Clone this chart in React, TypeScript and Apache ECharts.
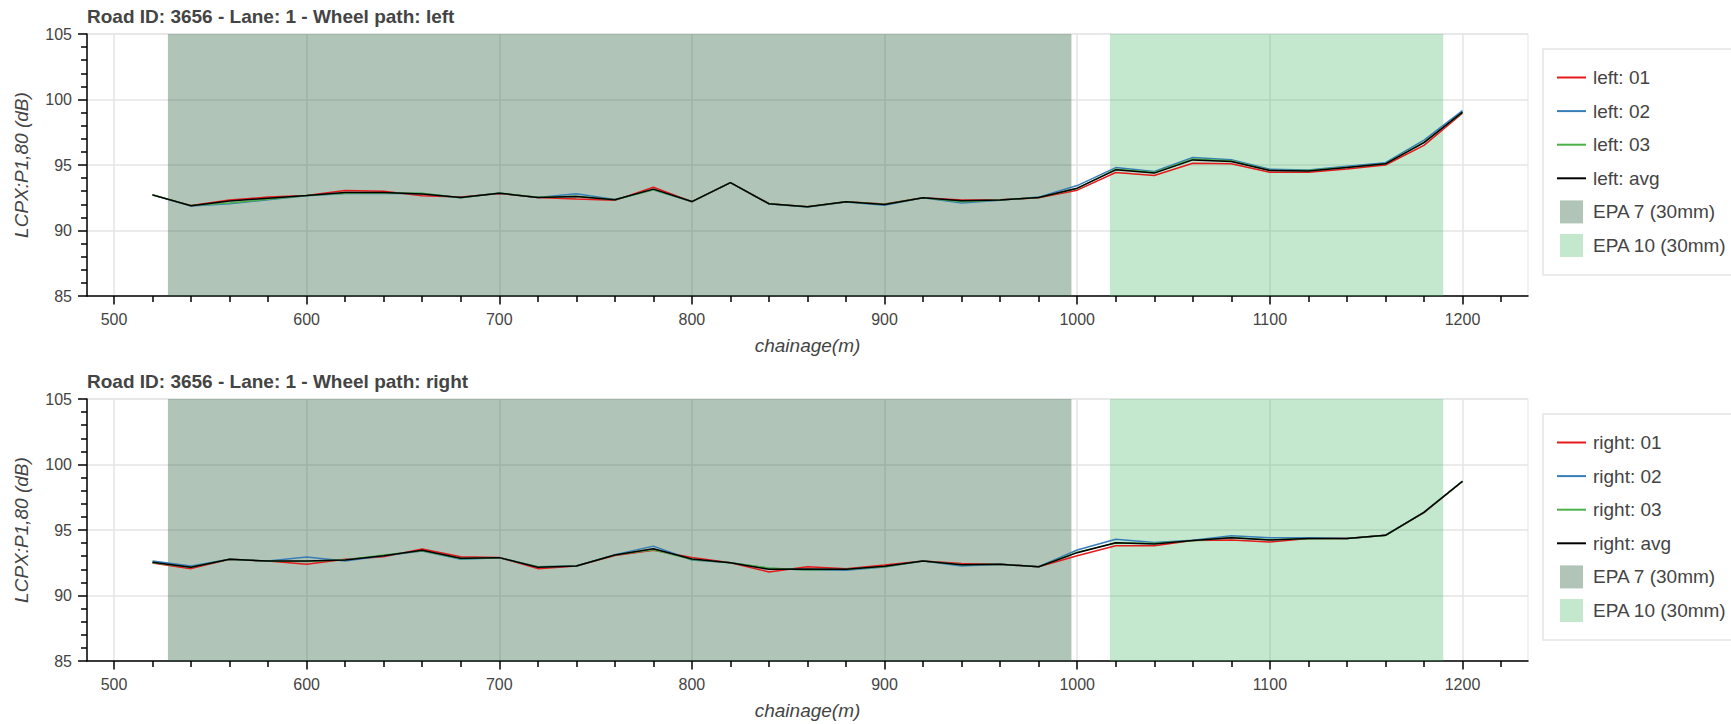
import React, { useEffect, useRef } from "react";
import * as echarts from "echarts";

// ---------------- data ----------------
const chainage = [
  520, 540, 560, 580, 600, 620, 640, 660, 680, 700, 720, 740, 760, 780, 800, 820, 840, 860,
  880, 900, 920, 940, 960, 980, 1000, 1020, 1040, 1060, 1080, 1100, 1120, 1140, 1160, 1180, 1200,
];

const left01 = [
  92.72, 91.9, 92.33, 92.55, 92.68, 93.05, 93.0, 92.65, 92.55, 92.83, 92.52, 92.4, 92.3, 93.3, 92.2, 93.66, 92.05, 91.82,
  92.2, 92.03, 92.5, 92.33, 92.35, 92.5, 93.08, 94.43, 94.2, 95.14, 95.1, 94.45, 94.45, 94.7, 95.0, 96.5, 98.95,
];
const left02 = [
  92.7, 91.87, 92.05, 92.35, 92.66, 92.82, 92.82, 92.82, 92.5, 92.86, 92.52, 92.8, 92.37, 93.1, 92.2, 93.66, 92.03, 91.8,
  92.18, 91.93, 92.5, 92.1, 92.3, 92.55, 93.43, 94.8, 94.5, 95.57, 95.4, 94.68, 94.62, 94.9, 95.18, 96.9, 99.15,
];
const left03 = [
  92.73, 91.9, 92.1, 92.38, 92.67, 92.85, 92.88, 92.85, 92.5, 92.86, 92.53, 92.62, 92.35, 93.1, 92.22, 93.66, 92.04, 91.81,
  92.19, 92.0, 92.5, 92.2, 92.33, 92.52, 93.2, 94.68, 94.44, 95.46, 95.32, 94.6, 94.58, 94.83, 95.1, 96.75, 99.0,
];
const leftAvg = [
  92.72, 91.89, 92.25, 92.47, 92.67, 92.9, 92.9, 92.78, 92.52, 92.85, 92.52, 92.6, 92.34, 93.16, 92.21, 93.66, 92.04, 91.81,
  92.19, 91.99, 92.5, 92.27, 92.33, 92.52, 93.23, 94.63, 94.38, 95.39, 95.27, 94.58, 94.55, 94.81, 95.09, 96.71, 99.03,
];

const right01 = [
  92.48, 92.05, 92.76, 92.63, 92.38, 92.76, 92.96, 93.55, 92.96, 92.9, 92.05, 92.25, 93.05, 93.45, 92.91, 92.5, 91.8, 92.2,
  92.05, 92.33, 92.63, 92.45, 92.38, 92.2, 93.04, 93.8, 93.8, 94.19, 94.24, 94.08, 94.36, 94.36, 94.59, 96.33, 98.7,
];
const right02 = [
  92.63, 92.25, 92.76, 92.63, 92.94, 92.63, 93.04, 93.4, 92.76, 92.88, 92.2, 92.25, 93.12, 93.77, 92.71, 92.5, 92.08, 91.95,
  91.92, 92.18, 92.63, 92.25, 92.38, 92.2, 93.47, 94.29, 94.04, 94.22, 94.56, 94.41, 94.4, 94.36, 94.6, 96.37, 98.73,
];
const right03 = [
  92.5, 92.15, 92.76, 92.63, 92.6, 92.72, 93.1, 93.42, 92.8, 92.89, 92.2, 92.25, 93.1, 93.5, 92.75, 92.5, 92.1, 91.95,
  92.0, 92.2, 92.63, 92.35, 92.38, 92.2, 93.3, 94.0, 93.98, 94.17, 94.43, 94.25, 94.33, 94.36, 94.58, 96.35, 98.72,
];
const rightAvg = [
  92.53, 92.15, 92.76, 92.63, 92.63, 92.71, 93.04, 93.45, 92.84, 92.89, 92.15, 92.25, 93.09, 93.57, 92.79, 92.5, 92.0, 92.03,
  92.0, 92.23, 92.63, 92.35, 92.38, 92.2, 93.27, 94.03, 93.94, 94.19, 94.41, 94.24, 94.36, 94.36, 94.59, 96.35, 98.72,
];

const epa7Range = [528, 997];
const epa10Range = [1017, 1190];
const xTicks = [500, 600, 700, 800, 900, 1000, 1100, 1200];
const xRange = [486, 1234];
const yRange = [85, 105];
const titles = [
  "Road ID: 3656 - Lane: 1 - Wheel path: left",
  "Road ID: 3656 - Lane: 1 - Wheel path: right",
];
const runLabels = ["01", "02", "03", "avg"];
const epaNames = ["EPA 7 (30mm)", "EPA 10 (30mm)"];

// ---------------- styles ----------------
const FONT = "'Liberation Sans', Arial, Helvetica, sans-serif";
const TXT = "#444444";
const LINE_COLORS = ["#e41a1c", "#377eb8", "#4daf4a", "#000000"];
const EPA_COLORS = ["rgba(30,90,50,0.35)", "rgba(60,180,90,0.3)"];
const LINE_ICON = "path://M0,10.5L29,10.5L29,12.5L0,12.5Z M0,0 M29,23";
const RECT_ICON = "path://M3,0L26,0L26,23L3,23Z M0,0 M29,23";

const PANEL_OFFSET = 365;

function pairs(vals: number[]) {
  return chainage.map((c, i) => [c, vals[i]]);
}

function buildOption() {
  const panels = [
    { side: "left", data: [left01, left02, left03, leftAvg] },
    { side: "right", data: [right01, right02, right03, rightAvg] },
  ];
  const title: any[] = [];
  const grid: any[] = [];
  const xAxis: any[] = [];
  const yAxis: any[] = [];
  const legend: any[] = [];
  const series: any[] = [];

  panels.forEach((p, i) => {
    const off = i * PANEL_OFFSET;
    title.push({
      text: titles[i],
      left: 87,
      top: 7 + off,
      padding: 0,
      textStyle: { fontSize: 19, fontWeight: "bold", color: TXT, fontFamily: FONT },
    });
    grid.push({
      left: 87,
      top: 34 + off,
      width: 1441,
      height: 262,
      show: true,
      borderColor: "#e5e5e5",
      borderWidth: 1,
      backgroundColor: "transparent",
    });
    xAxis.push({
      type: "value",
      gridIndex: i,
      min: xRange[0],
      max: xRange[1],
      minInterval: 100,
      maxInterval: 100,
      name: "chainage(m)",
      nameLocation: "middle",
      nameGap: 39.5,
      nameTextStyle: { fontSize: 19, fontStyle: "italic", color: TXT, fontFamily: FONT },
      axisLine: { show: true, onZero: false, lineStyle: { color: "#000", width: 1.5 } },
      axisTick: { show: true, length: 8.5, customValues: xTicks, lineStyle: { color: "#000", width: 1.5 } },
      minorTick: { show: true, splitNumber: 5, length: 6, lineStyle: { color: "#000", width: 1.5 } },
      axisLabel: {
        customValues: xTicks,
        margin: 15,
        fontSize: 16,
        color: TXT,
        fontFamily: FONT,
        formatter: (v: number) => String(v),
      },
      splitLine: { show: true, lineStyle: { color: "#e5e5e5", width: 1.5 } },
    });
    yAxis.push({
      type: "value",
      gridIndex: i,
      min: yRange[0],
      max: yRange[1],
      interval: 5,
      name: "LCPX:P1,80 (dB)",
      nameLocation: "middle",
      nameGap: 56,
      nameRotate: 90,
      nameTextStyle: { fontSize: 19, fontStyle: "italic", color: TXT, fontFamily: FONT },
      axisLine: { show: true, onZero: false, lineStyle: { color: "#000", width: 1.5 } },
      axisTick: { show: true, length: 9, lineStyle: { color: "#000", width: 1.5 } },
      minorTick: { show: true, splitNumber: 5, length: 6, lineStyle: { color: "#000", width: 1.5 } },
      axisLabel: { margin: 15, fontSize: 16, color: TXT, fontFamily: FONT },
      splitLine: { show: true, lineStyle: { color: "#e5e5e5", width: 1.5 } },
    });

    const ranges = [epa7Range, epa10Range];
    epaNames.forEach((nm, k) => {
      series.push({
        type: "line",
        name: nm,
        xAxisIndex: i,
        yAxisIndex: i,
        data: [],
        color: EPA_COLORS[k],
        itemStyle: { color: EPA_COLORS[k] },
        lineStyle: { color: EPA_COLORS[k] },
        z: 1,
        markArea: {
          silent: true,
          label: { show: false },
          itemStyle: { color: EPA_COLORS[k] },
          data: [[{ xAxis: ranges[k][0] }, { xAxis: ranges[k][1] }]],
        },
      });
    });

    const names = runLabels.map((r) => `${p.side}: ${r}`);
    p.data.forEach((vals, k) => {
      series.push({
        type: "line",
        name: names[k],
        xAxisIndex: i,
        yAxisIndex: i,
        data: pairs(vals),
        symbol: "none",
        showSymbol: false,
        color: LINE_COLORS[k],
        lineStyle: { color: LINE_COLORS[k], width: 1.5 },
        itemStyle: { color: LINE_COLORS[k] },
        z: 3 + k,
      });
    });

    legend.push({
      orient: "vertical",
      left: 1543,
      top: 49 + off,
      padding: [17, 14, 18, 14],
      itemWidth: 29,
      itemHeight: 23,
      itemGap: 10.6,
      backgroundColor: "#ffffff",
      borderColor: "#e5e5e5",
      borderWidth: 1.5,
      selectedMode: false,
      itemStyle: { borderWidth: 0 },
      textStyle: { fontSize: 19, color: TXT, fontFamily: FONT, padding: [0, 0, 0, 2] },
      data: [
        ...names.map((n) => ({ name: n, icon: LINE_ICON })),
        ...epaNames.map((n) => ({ name: n, icon: RECT_ICON })),
      ],
    });
  });

  return {
    animation: false,
    backgroundColor: "#ffffff",
    textStyle: { fontFamily: FONT },
    title,
    grid,
    xAxis,
    yAxis,
    legend,
    series,
  };
}

export default function App() {
  const ref = useRef<HTMLDivElement>(null);
  useEffect(() => {
    if (!ref.current) return;
    const chart = echarts.init(ref.current, undefined, { renderer: "svg" });
    chart.setOption(buildOption() as any);
    return () => chart.dispose();
  }, []);
  return (
    <div
      ref={ref}
      style={{ position: "absolute", left: 0, top: 0, width: 1731, height: 724, background: "#fff" }}
    />
  );
}
